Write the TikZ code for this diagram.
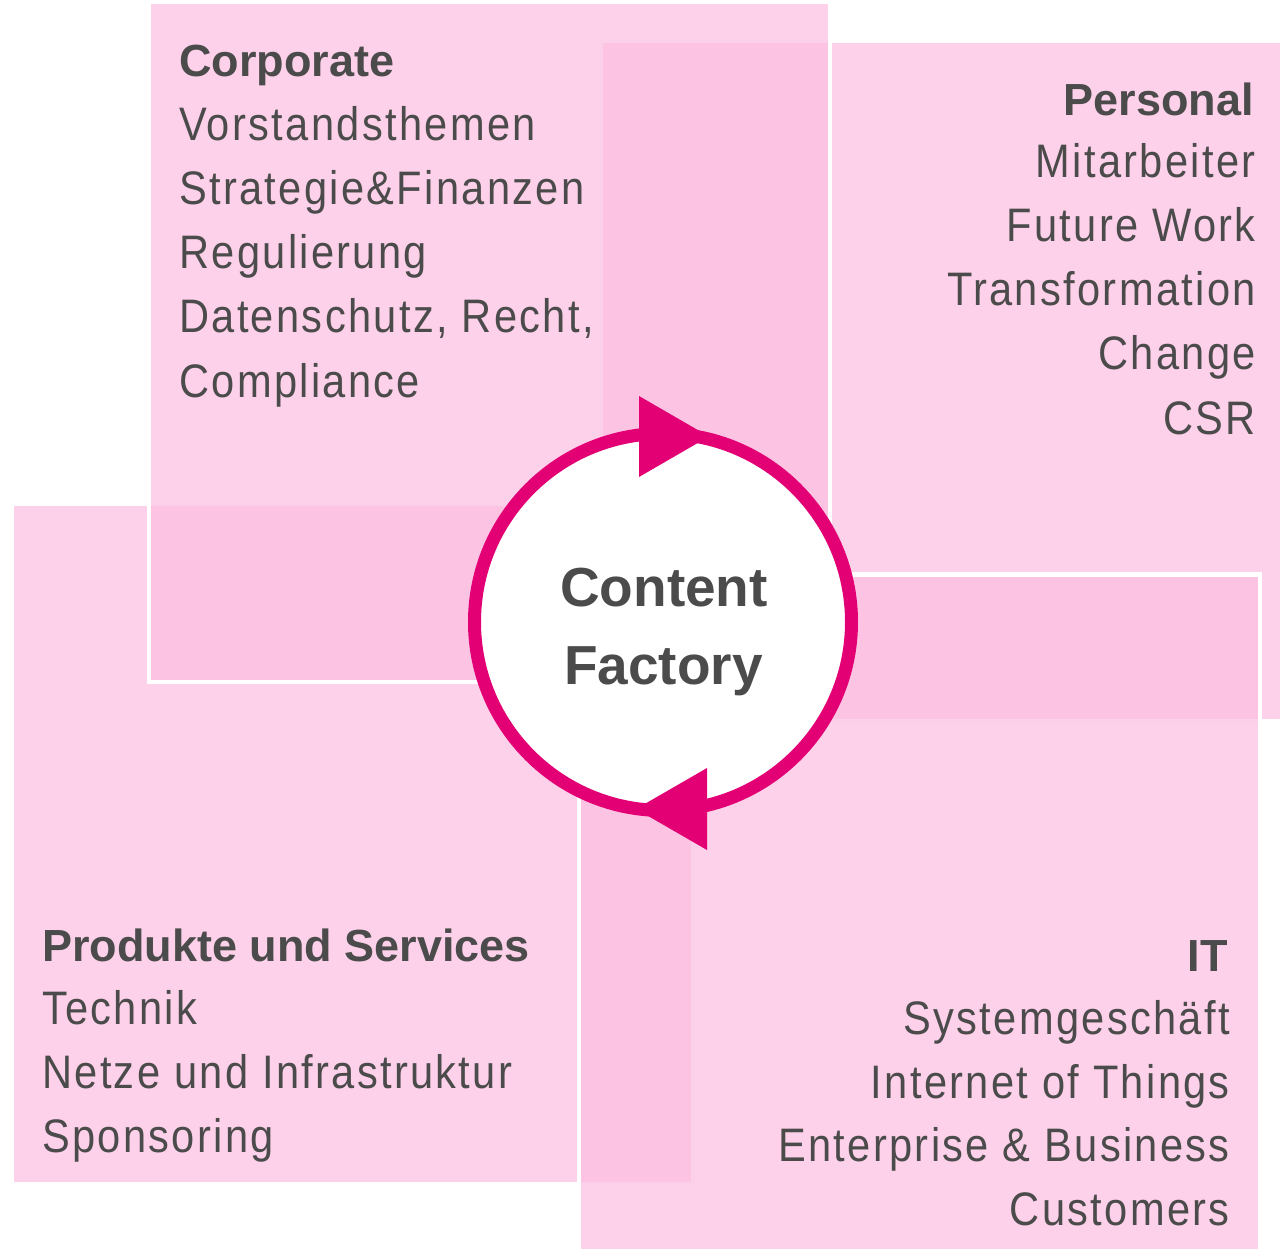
\documentclass[tikz,border=0pt]{standalone}
\usepackage{fontspec}
\setmainfont{Liberation Sans}
\newfontfamily\itemfont[LetterSpace=5,FakeStretch=0.885]{Liberation Sans}
\definecolor{txt}{RGB}{75,75,75}
\definecolor{boxpink}{RGB}{252,191,224}
\definecolor{tmag}{RGB}{226,0,116}
\begin{document}
\begin{tikzpicture}[x=1pt,y=-1pt,
  panel/.style={fill=boxpink, fill opacity=0.72, draw=white, draw opacity=1, line width=4.5pt},
  head/.style={inner sep=0pt, text=txt, font=\fontsize{45}{54}\selectfont\bfseries},
  item/.style={inner sep=0pt, text=txt, font=\fontsize{47}{56}\selectfont\itemfont},
  center/.style={inner sep=0pt, text=txt, font=\fontsize{55}{66}\selectfont\bfseries},
  ring/.style={circle, draw=tmag, line width=13pt, fill=white, minimum size=377pt, inner sep=0pt},
  tip/.style={fill=tmag}]
\useasboundingbox (0,0) rectangle (1283,1249);
% panels
\draw[panel] (12,504) rectangle (693,1184);
\draw[panel] (601,41) rectangle (1282,721);
\draw[panel] (579,574.5) rectangle (1260,1255);
\draw[panel] (149,2) rectangle (830,682);
% cycle
\node[ring] (cf) at (663,622) {};
\fill[tip] (639,396) -- (639,477) -- (709,436.5) -- cycle;
\fill[tip] (707,768) -- (707,850) -- (636,809) -- cycle;
\node[center, anchor=base] (cf1) at (664,606) {Content};
\node[center, anchor=base] (cf2) at (663.5,684) {Factory};
% Corporate
\node[head, anchor=base west] (c0) at (179,77) {Corporate};
\node[item, anchor=base west] (c1) at (179,141) {Vorstandsthemen};
\node[item, anchor=base west] (c2) at (179,205) {Strategie\&Finanzen};
\node[item, anchor=base west] (c3) at (179,269) {Regulierung};
\node[item, anchor=base west] (c4) at (179,333) {Datenschutz, Recht,};
\node[item, anchor=base west] (c5) at (179,397) {Compliance};
% Personal
\node[head, anchor=base east] (p0) at (1254,116) {Personal};
\node[item, anchor=base east] (p1) at (1256,177.5) {Mitarbeiter};
\node[item, anchor=base east] (p2) at (1256,241.5) {Future Work};
\node[item, anchor=base east] (p3) at (1256,305.5) {Transformation};
\node[item, anchor=base east] (p4) at (1256,370) {Change};
\node[item, anchor=base east] (p5) at (1256,434.5) {CSR};
% Produkte
\node[head, anchor=base west] (s0) at (42,961) {Produkte und Services};
\node[item, anchor=base west] (s1) at (42,1024) {Technik};
\node[item, anchor=base west] (s2) at (42,1088) {Netze und Infrastruktur};
\node[item, anchor=base west] (s3) at (42,1152) {Sponsoring};
% IT
\node[head, anchor=base east] (i0) at (1228,971) {IT};
\node[item, anchor=base east] (i1) at (1230,1034) {Systemgeschäft};
\node[item, anchor=base east] (i2) at (1230,1098) {Internet of Things};
\node[item, anchor=base east] (i3) at (1230,1161) {Enterprise \& Business};
\node[item, anchor=base east] (i4) at (1230,1225) {Customers};
\end{tikzpicture}
\end{document}
